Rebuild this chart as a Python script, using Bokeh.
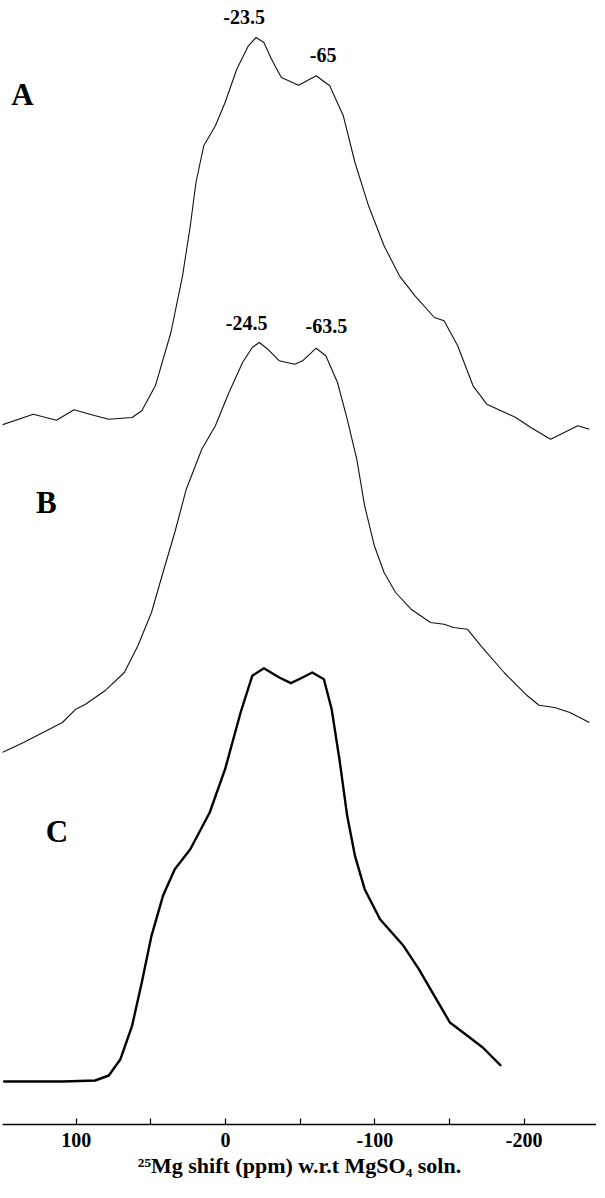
from bokeh.plotting import figure
from bokeh.models import Range1d, FixedTicker, ColumnDataSource
from bokeh.core.properties import value
from bokeh.embed import file_html
from bokeh.resources import INLINE

# ---- data (25Mg shift in ppm, intensity in arbitrary units) ----
shift_A = [150.4, 128.8, 113.2, 101.5, 88.5, 78.2, 62.6, 56.1, 47.0, 36.6, 28.8, 23.6,
           19.8, 14.6, 6.8, 0.3, -7.5, -15.3, -20.5, -25.7, -30.8, -37.4, -49.0, -60.7,
           -69.8, -78.9, -86.7, -95.8, -106.2, -116.5, -126.9, -139.9, -146.4, -155.5,
           -165.8, -175.0, -194.4, -204.5, -217.7, -226.9, -236.0, -243.7]
int_A = [-2.7, 8.3, 2.3, 12.7, 7.3, 3.3, 5, 11.7, 36.7, 90, 146.7, 196.7,
         240, 276.7, 296.7, 320, 353.3, 376.7, 385, 380, 363.3, 345, 337.3, 346.7,
         336.7, 306.7, 260, 216.7, 176.7, 146.7, 126.7, 105, 101.7, 76.7,
         36.7, 18.3, 5, -5, -16.7, -10, -3.3, -6.7]

shift_B = [149.6, 135.3, 122.3, 109.3, 100.3, 93.8, 80.8, 67.8, 58.7, 49.6, 41.9, 34.0,
           26.3, 15.9, 6.8, -2.3, -11.4, -17.9, -22.6, -28.3, -36.0, -46.4, -51.6, -60.7,
           -67.2, -75.0, -81.5, -87.9, -93.2, -99.7, -106.2, -113.9, -124.3, -137.3,
           -146.4, -152.8, -162.0, -171.1, -186.6, -202.2, -210.0, -220.4, -230.7, -243.7]
int_B = [0, 10, 20, 30, 43.3, 48.3, 61.7, 80, 106.7, 140, 180, 220,
         263.3, 303.3, 326.7, 360, 390, 405, 410, 403.3, 391.7, 388.3, 391.7, 404.3,
         396.7, 370, 333.3, 293.3, 246.7, 206.7, 180, 160, 143.3, 130,
         128.3, 125, 123.3, 106.7, 80, 56.7, 47.3, 45, 40, 30]

shift_C = [148.3, 109.3, 87.3, 78.2, 70.4, 62.6, 56.1, 49.6, 41.9, 34.0, 23.6, 10.6,
           0.3, -10.1, -17.9, -25.7, -36.0, -43.8, -51.6, -58.1, -65.9, -71.1, -76.3,
           -81.5, -86.7, -93.2, -103.5, -119.2, -129.5, -139.9, -150.3, -160.7, -172.3, -184.1]
int_C = [0, 0, 1, 6, 22.3, 55.7, 99, 145.7, 185.7, 212.3, 232.3, 269,
         312.3, 369, 405.7, 413.3, 404, 398.3, 404, 409, 402.3, 372.3, 322.3,
         265.7, 225.7, 192.3, 162.3, 135.7, 112.3, 85.7, 59, 47.3, 34, 16.3]

panel_letters = ["A", "B", "C"]
peak_labels_A = ["-23.5", "-65"]
peak_labels_B = ["-24.5", "-63.5"]
tick_values = [100, 0, -100, -200]
tick_labels = ["100", "0", "-100", "-200"]
minor_tick_values = [150, 50, -50, -150]
x_title = "²⁵Mg shift (ppm) w.r.t MgSO₄ soln."

# ---- layout (stacking offsets and annotation positions) ----
offset = {"A": 702, "B": 372, "C": 43}
letter_pos = {"A": (136, 1030), "B": (120, 622), "C": (113, 293)}
peak_label_pos_A = [(-12.5, 1108), (-65.4, 1070)]
peak_label_pos_B = [(-14.1, 802), (-67.6, 799)]

FONT = value("Liberation Serif")

p = figure(width=596, height=1182, output_backend="svg", toolbar_location=None,
           x_range=Range1d(149.4, -248.5), y_range=Range1d(0, 1124),
           y_axis_location=None, min_border_left=2, min_border_right=0,
           min_border_top=0, min_border_bottom=58)
p.grid.visible = False
p.outline_line_color = None
p.background_fill_color = "white"
p.border_fill_color = "white"

p.line(shift_A, [v + offset["A"] for v in int_A], line_color="#111111", line_width=1.1,
       line_join="round")
p.line(shift_B, [v + offset["B"] for v in int_B], line_color="#111111", line_width=1.1,
       line_join="round")
p.line(shift_C, [v + offset["C"] for v in int_C], line_color="black", line_width=2.4,
       line_join="round", line_cap="round")

p.text(x=[letter_pos[k][0] for k in panel_letters], y=[letter_pos[k][1] for k in panel_letters],
       text=panel_letters, text_font=FONT, text_font_style="bold", text_font_size="31px",
       text_align="center", text_baseline="middle", text_color="black")

lab_src = ColumnDataSource(dict(
    x=[q[0] for q in peak_label_pos_A + peak_label_pos_B],
    y=[q[1] for q in peak_label_pos_A + peak_label_pos_B],
    t=peak_labels_A + peak_labels_B))
p.text(x="x", y="y", text="t", source=lab_src, text_font=FONT, text_font_style="bold",
       text_font_size="20px", text_align="center", text_baseline="middle", text_color="black")

ax = p.xaxis[0]
ax.ticker = FixedTicker(ticks=tick_values, minor_ticks=minor_tick_values)
ax.major_label_overrides = {t: s for t, s in zip(tick_values, tick_labels)}
ax.major_tick_in = 6
ax.major_tick_out = 0
ax.minor_tick_in = 6
ax.minor_tick_out = 0
ax.axis_line_width = 1.5
ax.major_tick_line_width = 1.2
ax.minor_tick_line_width = 1.2
ax.axis_line_color = "black"
ax.major_label_text_font = "Liberation Serif"
ax.major_label_text_font_style = "bold"
ax.major_label_text_font_size = "20px"
ax.major_label_text_color = "black"
ax.major_label_standoff = 8
ax.axis_label = x_title
ax.axis_label_text_font = "Liberation Serif"
ax.axis_label_text_font_style = "bold"
ax.axis_label_text_font_size = "22px"
ax.axis_label_text_color = "black"
ax.axis_label_standoff = 3

open("out.html", "w").write(file_html(p, INLINE))
